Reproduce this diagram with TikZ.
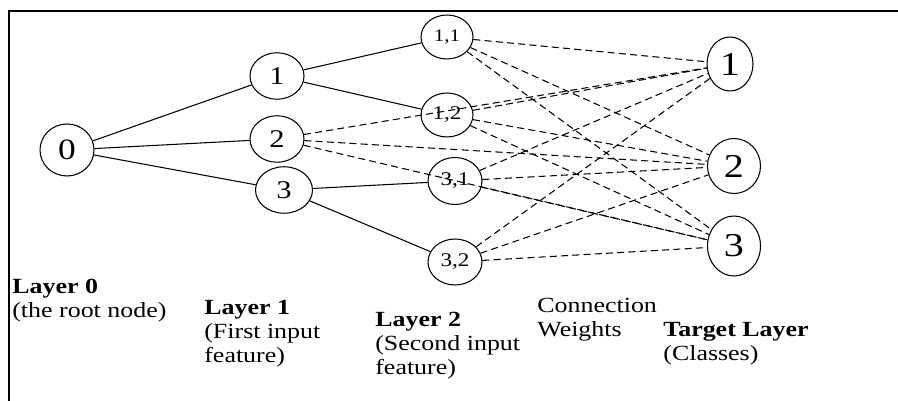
\documentclass[tikz,border=0pt]{standalone}
\usepackage{fontspec}
\setmainfont[FakeStretch=1.2]{Liberation Serif}
\usetikzlibrary{shapes.geometric}

\begin{document}
\begin{tikzpicture}[
    x=0.02cm, y=-0.02cm,
    unit/.style={ellipse, draw, line width=0.6pt, inner sep=0pt},
    rootunit/.style={unit, minimum width=1.08cm, minimum height=1.04cm, font=\fontsize{16.8}{18}\selectfont},
    featunit/.style={unit, minimum width=1.08cm, minimum height=0.93cm, font=\fontsize{14.5}{16}\selectfont},
    subunit/.style={unit, minimum width=1.04cm, minimum height=0.88cm, font=\fontsize{11}{12}\selectfont},
    classunit/.style={unit, minimum width=1.06cm, minimum height=1.1cm, font=\fontsize{19}{20}\selectfont},
    layertext/.style={anchor=north west, inner sep=0pt, align=left, font=\fontsize{12.3}{13.6}\selectfont},
    branch/.style={line width=0.6pt},
    weight/.style={line width=0.6pt, dash pattern=on 4pt off 2.4pt}
]
\useasboundingbox (0,0) rectangle (898,401);
\draw [line width=1.5pt] (9,401) -- (9,11) -- (898,11);

% tree of input features
\node (root) [rootunit] at (67,150) {0};
\node (f1) [featunit] at (277,76) {1};
\node (f2) [featunit] at (277,139) {2};
\node (f3) [featunit, minimum width=1.14cm] at (284,190) {3};
\node (f11) [subunit, font=\fontsize{10}{11}\selectfont] at (447,37) {1,1};
\node (f12) [subunit] at (447,115) {1,2};
\node (f31) [subunit, minimum width=1.08cm, minimum height=0.94cm] at (455,181) {3,1};
\node (f32) [subunit, minimum width=1.08cm, minimum height=0.92cm] at (455,262) {3,2};

% classes
\node (c1) [classunit, minimum width=0.92cm, minimum height=1.08cm] at (730,64) {1};
\node (c2) [classunit] at (734,166) {2};
\node (c3) [classunit, minimum height=1.2cm] at (734,246) {3};

\draw [branch] (root) -- (f1);
\draw [branch] (root) -- (f2);
\draw [branch] (root) -- (f3);
\draw [branch] (f1) -- (f11);
\draw [branch] (f1) -- (f12);
\draw [branch] (f3) -- (f31);
\draw [branch] (f3) -- (f32);

% connection weights
\draw [weight] (f2) -- (c1);
\draw [weight] (f2) -- (c2);
\draw [weight] (f2) -- (c3);
\draw [weight] (f11) -- (c1);
\draw [weight] (f11) -- (c2);
\draw [weight] (f11) -- (c3);
\draw [weight] (f12) -- (c1);
\draw [weight] (f12) -- (c2);
\draw [weight] (f12) -- (c3);
\draw [weight] (f31) -- (c1);
\draw [weight] (f31) -- (c2);
\draw [weight] (f31) -- (c3);
\draw [weight] (f32) -- (c1);
\draw [weight] (f32) -- (c2);
\draw [weight] (f32) -- (c3);

% layer captions
\node (lab0) [layertext] at (12,279) {\textbf{Layer 0}\\(the root node)};
\node (lab1) [layertext] at (204,300) {\textbf{Layer 1}\\(First input\\feature)};
\node (lab2) [layertext] at (375,312) {\textbf{Layer 2}\\(Second input\\feature)};
\node (labw) [layertext] at (537,298) {Connection\\Weights};
\node (labt) [layertext] at (663,322) {\textbf{Target Layer}\\(Classes)};

\end{tikzpicture}
\end{document}
